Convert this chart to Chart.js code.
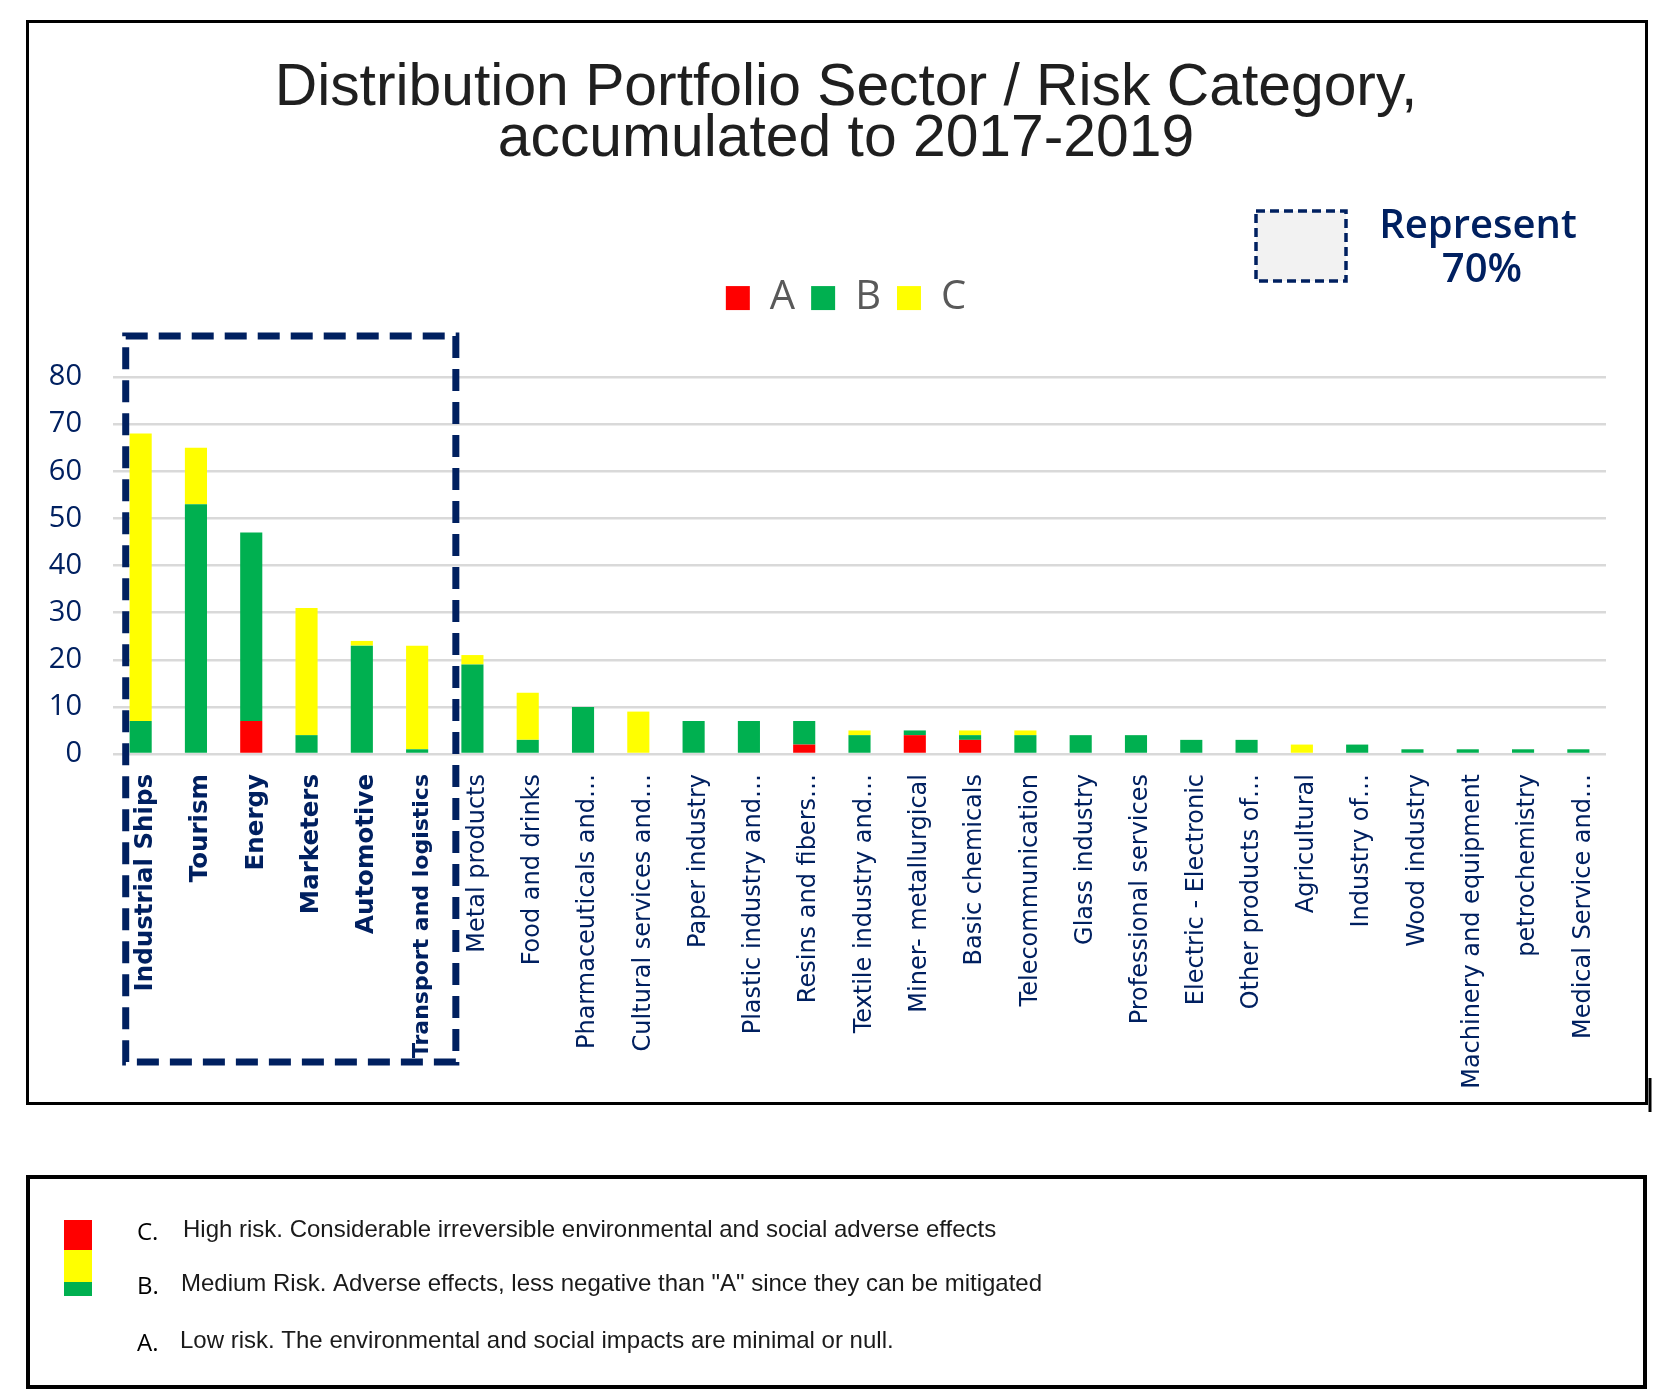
<!DOCTYPE html>
<html>
<head>
<meta charset="utf-8">
<script src="https://cdn.jsdelivr.net/npm/chart.js@4.4.1/dist/chart.umd.min.js"></script>
<style>
html,body{margin:0;padding:0;background:#ffffff;}
canvas{display:block;}
</style>
</head>
<body>
<canvas id="c" width="1664" height="1396" style="width:1664px;height:1396px"></canvas>
<script>
// ---------- data ----------
const categories = [
  'Industrial Ships','Tourism','Energy','Marketers','Automotive','Transport and logistics',
  'Metal products','Food and drinks','Pharmaceuticals and…','Cultural services and…',
  'Paper industry','Plastic industry and…','Resins and fibers…','Textile industry and…',
  'Miner- metallurgical','Basic chemicals','Telecommunication','Glass industry',
  'Professional services','Electric - Electronic','Other products of…','Agricultural',
  'Industry of…','Wood industry','Machinery and equipment','petrochemistry','Medical Service and…'
];
const riskA = [0,0,7,0,0,0, 0,0,0,0,0,0,2,0,4,3,0,0,0,0,0,0,0,0,0,0,0];
const riskB = [7,53,40,4,23,1, 19,3,10,0,7,7,5,4,1,1,4,4,4,3,3,0,2,1,1,1,1];
const riskC = [61,12,0,27,1,22, 2,10,0,9,0,0,0,1,0,1,1,0,0,0,0,2,0,0,0,0,0];
const seriesNames = ['A','B','C'];
const seriesColors = ['#ff0000','#00b050','#ffff00'];
const yTickMax = 80;
const yTickStep = 10;
const titleLines = ['Distribution Portfolio Sector / Risk Category,','accumulated to 2017-2019'];
const highlightCount = 6;
const keyLines = ['Represent','70%'];
const noteLetters = ['C.','B.','A.'];
const noteTexts = [
  'High risk. Considerable irreversible environmental and social adverse effects',
  'Medium Risk. Adverse effects, less negative than "A" since they can be mitigated',
  'Low risk. The environmental and social impacts are minimal or null.'
];
// colour strip in the note box (top to bottom)
const noteStrip = ['#ff0000','#ffff00','#00b050'];

const NAVY = '#002060';

const deco = {
  id: 'deco',
  afterDraw(chart) {
    const ctx = chart.ctx;
    const xs = chart.scales.x, ys = chart.scales.y;
    ctx.save();
    // outer frame
    ctx.setLineDash([]);
    ctx.strokeStyle = '#000';
    ctx.lineWidth = 3;
    ctx.strokeRect(27.5, 21.5, 1619, 1082);
    ctx.beginPath(); ctx.moveTo(1650, 1078); ctx.lineTo(1650, 1112); ctx.stroke();

    // dashed highlight around the first sectors
    const cw = xs.getPixelForValue(1) - xs.getPixelForValue(0);
    const l = xs.getPixelForValue(0) - 0.27 * cw;
    const r = xs.getPixelForValue(highlightCount - 1) + 0.7 * cw;
    const t = ys.getPixelForValue(yTickMax) - 41;
    const b = 1062;
    ctx.strokeStyle = NAVY;
    ctx.lineWidth = 7;
    ctx.setLineDash([22, 11]);
    ctx.strokeRect(l, t, r - l, b - t);

    // "Represent 70%" key
    ctx.fillStyle = '#f2f2f2';
    ctx.fillRect(1256, 211, 90, 70);
    ctx.setLineDash([9, 5]);
    ctx.lineWidth = 3.5;
    ctx.strokeRect(1256, 211, 90, 70);
    ctx.setLineDash([]);
    ctx.fillStyle = NAVY;
    ctx.font = '600 40px "Open Sans", "Liberation Sans", sans-serif';
    ctx.textAlign = 'center';
    ctx.textBaseline = 'alphabetic';
    ctx.fillText(keyLines[0], 1478, 238);
    ctx.fillText(keyLines[1], 1482, 282);

    // notes box
    ctx.strokeStyle = '#000';
    ctx.lineWidth = 4;
    ctx.strokeRect(28, 1177, 1617, 210);
    ctx.fillStyle = noteStrip[0]; ctx.fillRect(64, 1220, 28, 30);
    ctx.fillStyle = noteStrip[1]; ctx.fillRect(64, 1250, 28, 32);
    ctx.fillStyle = noteStrip[2]; ctx.fillRect(64, 1282, 28, 14);
    const rowsY = [1233, 1287, 1344];
    const textX = [183, 181, 180];
    ctx.textAlign = 'left';
    ctx.textBaseline = 'middle';
    for (let i = 0; i < noteLetters.length; i++) {
      ctx.fillStyle = '#000';
      ctx.font = '24px "Open Sans", sans-serif';
      ctx.fillText(noteLetters[i], 137, rowsY[i]);
      ctx.fillStyle = '#1a1a1a';
      ctx.font = '24px "Liberation Sans", Arial, sans-serif';
      ctx.fillText(noteTexts[i], textX[i], rowsY[i] - 3);
    }
    ctx.restore();
  }
};

const seriesData = [riskA, riskB, riskC];

new Chart(document.getElementById('c'), {
  type: 'bar',
  data: {
    labels: categories,
    datasets: seriesNames.map((n, i) => ({
      label: n,
      data: seriesData[i],
      backgroundColor: seriesColors[i],
      borderWidth: 0,
      barPercentage: 0.4,
      categoryPercentage: 1
    }))
  },
  options: {
    responsive: false,
    animation: false,
    layout: { padding: { left: 40, right: 12, top: 21, bottom: 302 } },
    plugins: {
      title: {
        display: true,
        text: titleLines,
        color: '#1f1f1f',
        font: { family: '"Liberation Sans", Arial, sans-serif', size: 58.8, weight: 'normal', lineHeight: 0.868 },
        padding: { top: 42, bottom: 97 }
      },
      subtitle: {
        display: true,
        text: '',
        weight: 500,
        padding: 0,
        font: { size: 49, lineHeight: 1 }
      },
      legend: {
        display: true,
        position: 'top',
        labels: {
          boxWidth: 24,
          boxHeight: 24,
          padding: 16,
          color: '#595959',
          font: { family: '"Open Sans", sans-serif', size: 40, lineHeight: 1 }
        }
      },
      tooltip: { enabled: false }
    },
    scales: {
      x: {
        stacked: true,
        grid: { display: false, drawTicks: false },
        border: { display: false },
        ticks: {
          autoSkip: false,
          maxRotation: 90,
          minRotation: 90,
          padding: 20,
          labelOffset: 5,
          color: NAVY,
          font: (c) => c.index < highlightCount
            ? { family: '"DejaVu Sans", sans-serif', size: c.index === highlightCount - 1 ? 22 : 24.5, weight: 'bold' }
            : { family: '"DejaVu Sans", sans-serif', size: 24, weight: 'normal' }
        },
        afterFit: (s) => { s.height = 340; }
      },
      y: {
        stacked: true,
        min: 0,
        max: yTickMax,
        ticks: {
          stepSize: yTickStep,
          padding: 31,
          color: NAVY,
          font: { family: '"Open Sans", sans-serif', size: 29 }
        },
        grid: { color: '#d9d9d9', lineWidth: 2.5, drawTicks: false },
        border: { display: false },
        afterFit: (s) => { s.width = 73; }
      },
      yRight: {
        position: 'right',
        display: true,
        grid: { display: false, drawTicks: false },
        border: { display: false },
        ticks: { display: false },
        afterFit: (s) => { s.width = 46; }
      }
    }
  },
  plugins: [deco]
});
</script>
</body>
</html>
